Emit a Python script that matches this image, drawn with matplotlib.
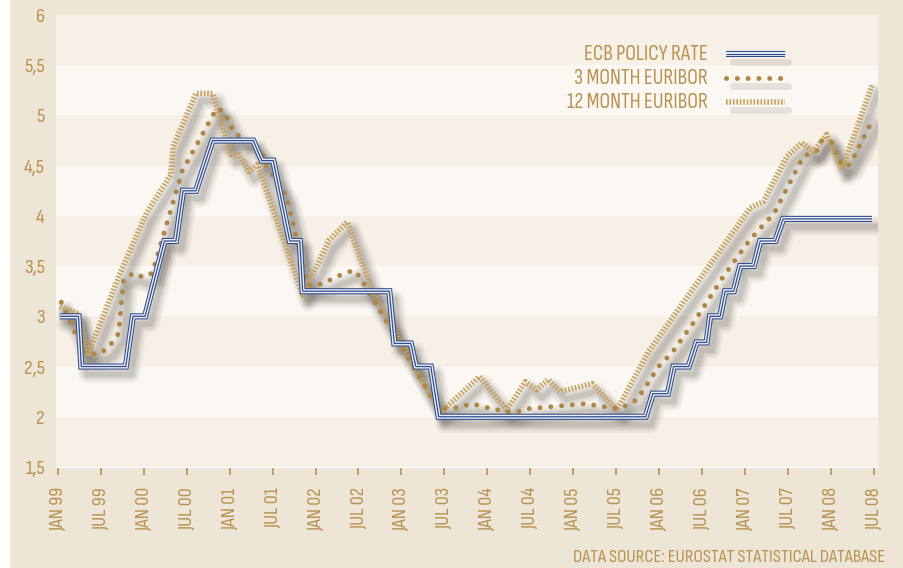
import numpy as np
import matplotlib.pyplot as plt
from matplotlib.transforms import ScaledTranslation

plt.rcParams['font.family'] = ['Sofia Sans Condensed', 'DejaVu Sans']

# months since Jan 1999 and rates (%)
ecb_month = [0.3, 2.9, 3.3, 9.5, 10.5, 12.2, 14.9, 16.5, 17.5, 19.3, 21.6, 27.3,
             28.5, 30.1, 32.4, 33.8, 34.2, 46.3, 47.0, 49.3, 50.0, 52.1, 53.2,
             82.1, 83.1, 85.2, 86.0, 88.1, 89.2, 90.6, 91.1, 92.5, 93.2, 94.4,
             95.3, 97.2, 98.1, 100.2, 101.3, 113.7]
ecb_rate = [3.0, 3.0, 2.5, 2.5, 3.0, 3.0, 3.75, 3.75, 4.25, 4.25, 4.75, 4.75,
            4.55, 4.55, 3.75, 3.75, 3.25, 3.25, 2.73, 2.73, 2.5, 2.5, 2.0,
            2.0, 2.23, 2.23, 2.5, 2.5, 2.74, 2.74, 3.0, 3.0, 3.25, 3.25,
            3.5, 3.5, 3.75, 3.75, 3.97, 3.97]

eur3_month = [0.5, 3.6, 5.5, 7.0, 8.5, 9.2, 10.6, 11.9, 13.2, 17.4, 22.2, 23.2,
              24.7, 26.9, 28.6, 29.2, 31.9, 34.9, 36.3, 37.7, 39.1, 41.3, 42.1,
              53.1, 55.0, 57.9, 60.5, 63.7, 65.7, 73.7, 76.2, 78.5, 80.9, 83.9,
              85.8, 89.0, 92.9, 96.2, 98.0, 100.0, 104.1, 106.0, 106.7, 108.0,
              109.5, 110.6, 113.9]
eur3_rate = [3.14, 2.65, 2.62, 2.68, 2.83, 3.37, 3.43, 3.39, 3.43, 4.45, 5.07, 5.04,
             4.82, 4.73, 4.62, 4.49, 4.20, 3.31, 3.31, 3.35, 3.40, 3.46, 3.40,
             2.09, 2.08, 2.13, 2.08, 2.04, 2.08, 2.13, 2.10, 2.08, 2.17, 2.50,
             2.64, 2.96, 3.39, 3.72, 3.87, 4.02, 4.59, 4.65, 4.75, 4.74,
             4.50, 4.51, 4.97]

eur12_month = [0.3, 2.6, 4.3, 8.7, 12.4, 15.8, 16.1, 19.3, 21.6, 24.2, 25.3, 26.7,
               27.9, 34.2, 37.9, 40.4, 43.9, 53.4, 58.9, 62.7, 65.3, 66.9, 68.5,
               70.2, 74.6, 78.1, 82.5, 96.7, 98.5, 101.8, 103.9, 105.5, 107.4,
               109.5, 113.7]
eur12_rate = [3.10, 3.03, 2.63, 3.43, 4.03, 4.41, 4.69, 5.22, 5.22, 4.61, 4.61, 4.44,
              4.51, 3.21, 3.76, 3.94, 3.26, 2.04, 2.40, 2.07, 2.35, 2.27, 2.37,
              2.25, 2.33, 2.07, 2.65, 4.08, 4.14, 4.59, 4.73, 4.64, 4.81,
              4.46, 5.30]

tick_month = [0, 6, 12, 18, 24, 30, 36, 42, 48, 54, 60, 66, 72, 78, 84, 90, 96, 102, 108, 114]
tick_labels = ['JAN 99', 'JUL 99', 'JAN 00', 'JUL 00', 'JAN 01', 'JUL 01', 'JAN 02',
               'JUL 02', 'JAN 03', 'JUL 03', 'JAN 04', 'JUL 04', 'JAN 05', 'JUL 05',
               'JAN 06', 'JUL 06', 'JAN 07', 'JUL 07', 'JAN 08', 'JUL 08']
y_ticks = [1.5, 2, 2.5, 3, 3.5, 4, 4.5, 5, 5.5, 6]
y_labels = ['1,5', '2', '2,5', '3', '3,5', '4', '4,5', '5', '5,5', '6']

BEIGE = '#ede5d5'
DARK_BAND = '#f6f0e7'
LIGHT_BAND = '#fbf8f3'
GOLD = '#b8924f'
NAVY = '#2c4a8c'
DOT = '#ae8746'
HATCH = '#c8a25e'

fig = plt.figure(figsize=(9.04, 5.68), dpi=100)
fig.patch.set_facecolor(BEIGE)
fig.add_artist(plt.Rectangle((0, 0), 9 / 904, 1, transform=fig.transFigure,
                             color='white', zorder=0))

ax = fig.add_axes([56 / 904, 101 / 568, 821.7 / 904, 452 / 568])
ax.set_xlim(-0.24, 114.5)
ax.set_ylim(1.5, 6)

# alternating bands
for i in range(9):
    lo = 1.5 + 0.5 * i
    ax.axhspan(lo, lo + 0.5, color=DARK_BAND if i % 2 == 0 else LIGHT_BAND, lw=0, zorder=0)


def shadow(x, y, trans, clip=True):
    off = trans + ScaledTranslation(4 / 72, -5.5 / 72, fig.dpi_scale_trans)
    for lw, a in [(13, 0.05), (10, 0.07), (7, 0.09), (4, 0.12)]:
        ax.plot(x, y, color='#4e4a44', lw=lw, alpha=a, transform=off,
                solid_capstyle='round', solid_joinstyle='round', zorder=2, clip_on=clip)


def draw_ecb(x, y, trans, clip=True):
    ax.plot(x, y, color=NAVY, lw=4.4, transform=trans, zorder=5, clip_on=clip,
            solid_joinstyle='miter', solid_capstyle='butt')
    ax.plot(x, y, color='#eef0f6', lw=2.9, transform=trans, zorder=6, clip_on=clip,
            solid_joinstyle='miter', solid_capstyle='butt')
    ax.plot(x, y, color=NAVY, lw=0.9, transform=trans, zorder=7, clip_on=clip,
            solid_joinstyle='miter', solid_capstyle='butt')


def draw_eur3(x, y, trans, clip=True):
    ax.plot(x, y, color=DOT, lw=3.6, dashes=(0.01, 2.15), dash_capstyle='round',
            transform=trans, zorder=4, clip_on=clip)


def draw_eur12(x, y, trans, clip=True):
    ax.plot(x, y, color=HATCH, lw=4.0, dashes=(0.3, 0.32), dash_capstyle='butt',
            transform=trans, zorder=3, clip_on=clip)


for xs, ys in [(eur12_month, eur12_rate), (eur3_month, eur3_rate), (ecb_month, ecb_rate)]:
    shadow(xs, ys, ax.transData)

draw_eur12(eur12_month, eur12_rate, ax.transData)
draw_eur3(eur3_month, eur3_rate, ax.transData)
draw_ecb(ecb_month, ecb_rate, ax.transData)

# legend
leg_names = ['ECB POLICY RATE', '3 MONTH EURIBOR', '12 MONTH EURIBOR']
leg_y = [0.9137, 0.8606, 0.8075]
drawers = [draw_ecb, draw_eur3, draw_eur12]
for name, yy, fn in zip(leg_names, leg_y, drawers):
    ax.text(0.7935, yy, name, transform=ax.transAxes, ha='right', va='center',
            color=GOLD, fontsize=15.5)
    off = ax.transAxes + ScaledTranslation(4 / 72, -6 / 72, fig.dpi_scale_trans)
    ax.plot([0.817, 0.884], [yy, yy], color='#4e4a44', lw=5, alpha=0.13,
            transform=off, solid_capstyle='round', zorder=2)
    fn([0.8154, 0.8872], [yy, yy], ax.transAxes)

# axes styling
for s in ['left', 'right', 'top']:
    ax.spines[s].set_visible(False)
ax.spines['bottom'].set_color('white')
ax.spines['bottom'].set_linewidth(0.8)

ax.set_xticks(tick_month)
ax.set_xticklabels(tick_labels, rotation=90, color=GOLD, fontsize=14.5)
ax.tick_params(axis='x', length=6, width=1.2, color=GOLD, pad=8.5)
ax.set_yticks(y_ticks)
ax.set_yticklabels(y_labels, color=GOLD, fontsize=15)
ax.tick_params(axis='y', length=0, pad=8)

fig.text(885 / 904, 1 - 558 / 568, 'DATA SOURCE: EUROSTAT STATISTICAL DATABASE',
         ha='right', va='center', color=GOLD, fontsize=13.5)

fig.savefig('out.png', dpi=100, facecolor=BEIGE)
